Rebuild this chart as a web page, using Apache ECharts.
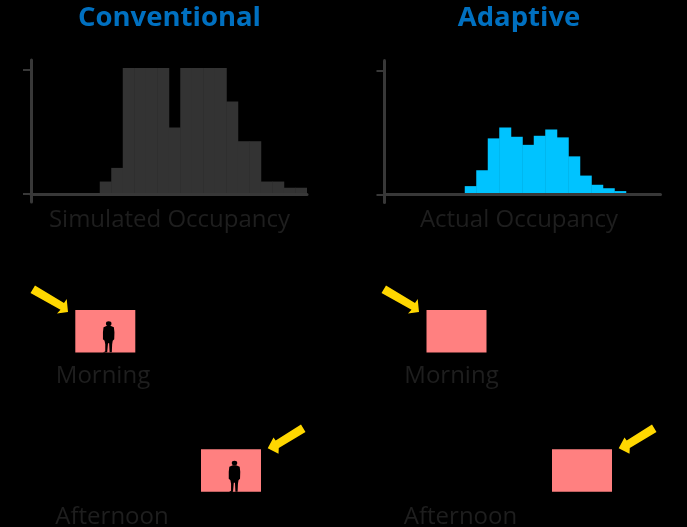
<!DOCTYPE html>
<html>
<head>
<meta charset="utf-8">
<style>
  html, body { margin: 0; padding: 0; background: #000; overflow: hidden; }
  #main { width: 687px; height: 527px; }
</style>
<script src="https://cdn.jsdelivr.net/npm/echarts@6/dist/echarts.min.js"></script>
</head>
<body>
<div id="main"></div>
<script>
  // share of full occupancy per hour of the day
  var hours = ['0','1','2','3','4','5','6','7','8','9','10','11','12','13','14','15','16','17','18','19','20','21','22','23']
  var simulatedOccupancy = [0,0,0,0,0,0,0.10,0.21,1.016,1.016,1.016,1.016,0.535,1.016,1.016,1.016,1.016,0.745,0.425,0.425,0.10,0.10,0.05,0.05]
  var actualOccupancy = [0,0,0,0,0,0,0,0.067,0.195,0.452,0.54,0.465,0.40,0.473,0.524,0.46,0.307,0.152,0.078,0.05,0.027,0,0,0]

  var axisColor = '#383838'
  var labelColor = '#1e1e1e'
  var titleColor = '#0070c0'
  var font = '"Open Sans"'

  function label(text, x, y) {
    return {
      text: text, left: x, top: y,
      textAlign: 'center', textVerticalAlign: 'middle', padding: 0,
      textStyle: { color: labelColor, fontSize: 24, fontWeight: 'normal', fontFamily: font }
    }
  }
  function heading(text, x) {
    return {
      text: text, left: x, top: 18,
      textAlign: 'center', textVerticalAlign: 'middle', padding: 0,
      textStyle: { color: titleColor, fontSize: 27.5, fontWeight: 'bold', fontFamily: font }
    }
  }
  function xAxisFor(grid) {
    return {
      type: 'category', gridIndex: grid, data: hours, boundaryGap: true, z: 3,
      axisLine: { onZero: true, lineStyle: { color: axisColor, width: 3 } },
      axisTick: { show: false }, axisLabel: { show: false }, splitLine: { show: false }
    }
  }
  function yAxisFor(grid) {
    return {
      type: 'value', gridIndex: grid, min: -0.065, max: 1.08, z: 3,
      axisLine: { show: true, onZero: false, lineStyle: { color: axisColor, width: 3 } },
      axisTick: { show: true, length: 8, customValues: [0, 1], lineStyle: { color: axisColor, width: 2 } },
      axisLabel: { show: false }, splitLine: { show: false }
    }
  }

  // room boxes, sun arrows and people are plain illustration
  function room(x, y) {
    return { type: 'rect', shape: { x: x, y: y, width: 60, height: 42.5 }, style: { fill: '#ff8080' } }
  }
  function morningArrow(dx) {
    return {
      type: 'polygon', x: dx,
      shape: { points: [[30.5,293],[35,285.5],[64,303],[66.7,299],[68,312],[57,313.5],[60.5,309.8]] },
      style: { fill: '#ffd700' }
    }
  }
  function afternoonArrow(dx) {
    return {
      type: 'polygon', x: dx,
      shape: { points: [[305.5,432],[301,424.5],[275.7,440.5],[273.5,437.5],[267.7,448.3],[278.5,453.8],[278.8,448]] },
      style: { fill: '#ffd700' }
    }
  }
  function person(x, y) {
    return {
      type: 'group', x: x, y: y, scaleX: 1.15,
      children: [
        { type: 'circle', shape: { cx: 0, cy: -28.6, r: 2.4 }, style: { fill: '#000' } },
        {
          type: 'polygon',
          shape: { points: [[-1.5,-26.5],[1.5,-26.5],[4.5,-25],[5,-20],[4.8,-13],[3.5,-11.5],[3,-8],[2.7,0],[0.8,0],[0.4,-9],[-0.6,-9],[-1.3,0],[-5,0.5],[-3,-1],[-3,-8],[-3.6,-11.5],[-5,-13],[-5,-20],[-4.5,-25]] },
          style: { fill: '#000' }
        }
      ]
    }
  }

  var chart = echarts.init(document.getElementById('main'), null, { renderer: 'canvas' })
  chart.setOption({
    backgroundColor: '#000',
    animation: false,
    title: [
      heading('Conventional', 169.5),
      heading('Adaptive', 519),
      label('Simulated Occupancy', 169.5, 220),
      label('Actual Occupancy', 519, 220),
      label('Morning', 103, 376.5),
      label('Morning', 451.5, 376.5),
      label('Afternoon', 112, 517),
      label('Afternoon', 460.5, 517)
    ],
    grid: [
      { left: 31, top: 60, width: 276, height: 142 },
      { left: 384.5, top: 60.5, width: 276, height: 142 }
    ],
    xAxis: [xAxisFor(0), xAxisFor(1)],
    yAxis: [yAxisFor(0), yAxisFor(1)],
    series: [
      { type: 'bar', xAxisIndex: 0, yAxisIndex: 0, data: simulatedOccupancy, barWidth: 12, itemStyle: { color: '#333333' } },
      { type: 'bar', xAxisIndex: 1, yAxisIndex: 1, data: actualOccupancy, barWidth: 12, itemStyle: { color: '#00c3ff' } }
    ],
    graphic: [
      room(75.3, 310), room(201, 449.3), room(426.5, 310), room(552, 449.3),
      morningArrow(0), morningArrow(351), afternoonArrow(0), afternoonArrow(351),
      person(108.7, 352.3), person(234.5, 491.7)
    ]
  })
</script>
</body>
</html>
